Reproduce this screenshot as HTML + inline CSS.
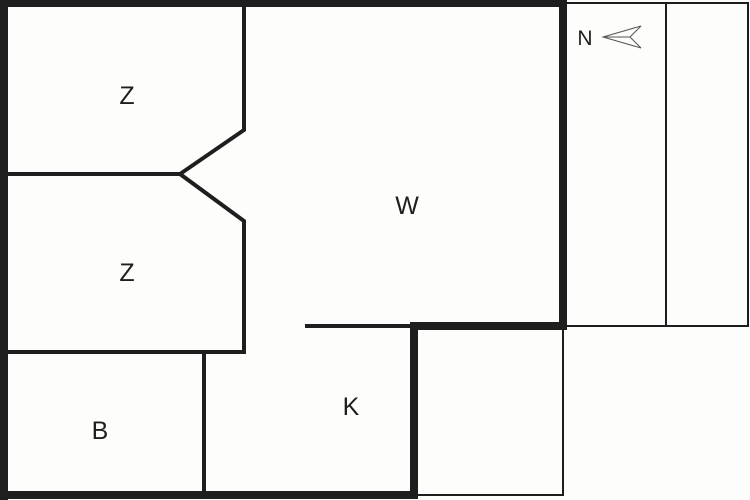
<!DOCTYPE html>
<html><head><style>html,body{margin:0;padding:0;background:#fdfdfb;}svg{display:block}</style></head>
<body>
<svg width="750" height="500" viewBox="0 0 750 500" xmlns="http://www.w3.org/2000/svg">
<rect width="750" height="500" fill="#fdfdfb"/>
<g fill="none" stroke="#1e1e1e" stroke-linecap="square">
<g stroke-width="2">
<polyline points="563,3 748,3 748,326 563,326"/>
<line x1="666" y1="3" x2="666" y2="326"/>
<polyline points="414,495 563,495 563,326"/>
</g>
<g stroke-width="8" stroke-linecap="butt">
<polyline points="4,3 563,3"/>
<line x1="4" y1="0" x2="4" y2="500"/>
<line x1="0" y1="495" x2="418" y2="495"/>
<line x1="414" y1="499" x2="414" y2="326"/>
<line x1="410" y1="326" x2="567" y2="326"/>
<line x1="563" y1="0" x2="563" y2="330"/>
</g>
<g stroke-width="4" stroke-linecap="butt">
<polyline points="244,7 244,130 180,174 244,221 244,354"/>
<line x1="8" y1="174" x2="180" y2="174"/>
<line x1="8" y1="352" x2="246" y2="352"/>
<line x1="204" y1="352" x2="204" y2="493"/>
<line x1="305" y1="326" x2="412" y2="326"/>
</g>
<g stroke-width="1" stroke="#555">
<polygon points="603,37 641,26 630,37 641,48"/>
<line x1="603" y1="37" x2="630" y2="37"/>
</g>
</g>
<g font-family="Liberation Sans, sans-serif" font-size="25" fill="#1e1e1e" text-anchor="middle">
<text x="127" y="104">Z</text>
<text x="127" y="281">Z</text>
<text x="100" y="439">B</text>
<text x="407" y="214">W</text>
<text x="351" y="415">K</text>
<text x="585" y="45" font-size="21">N</text>
</g>
</svg>
</body></html>
